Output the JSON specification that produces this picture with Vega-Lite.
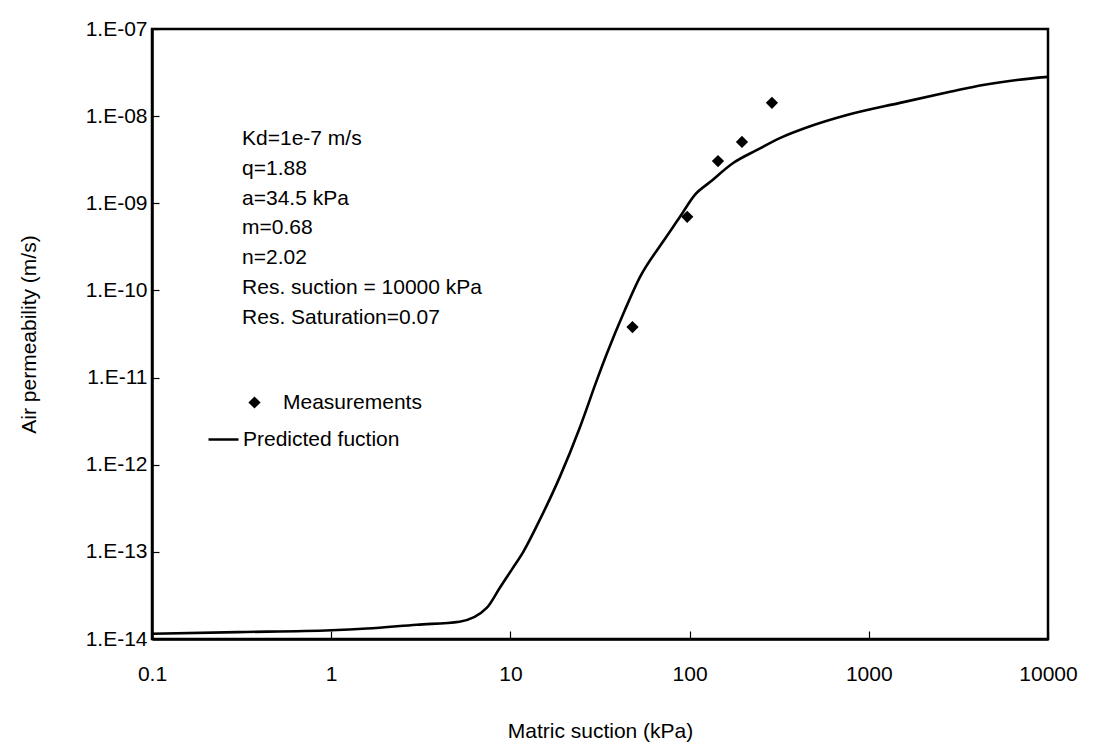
{
  "$schema": "https://vega.github.io/schema/vega-lite/v6.json",
  "autosize": "none",
  "width": 896,
  "height": 610,
  "padding": {"left": 152, "top": 29, "right": 46, "bottom": 117},
  "background": "white",
  "config": {
    "font": "Liberation Sans",
    "view": {"stroke": "black", "strokeWidth": 2.5},
    "axis": {"grid": false, "domainColor": "black", "domainWidth": 2.5, "tickColor": "black", "tickWidth": 1.2, "labelColor": "black", "titleColor": "black", "labelFont": "Liberation Sans", "titleFont": "Liberation Sans", "titleFontWeight": "normal"}
  },
  "datasets": {
    "curve": [
      {"s": 0.1, "k": 1.15e-14}, {"s": 0.3, "k": 1.2e-14}, {"s": 1, "k": 1.26e-14}, {"s": 1.58, "k": 1.32e-14},
      {"s": 3, "k": 1.46e-14}, {"s": 5.2, "k": 1.58e-14}, {"s": 7.4, "k": 2.29e-14}, {"s": 8.75, "k": 3.9e-14},
      {"s": 10.2, "k": 6.3e-14}, {"s": 11.8, "k": 1.0e-13}, {"s": 14.6, "k": 2.34e-13}, {"s": 18.9, "k": 7.3e-13},
      {"s": 24.5, "k": 2.73e-12}, {"s": 30.4, "k": 9.4e-12}, {"s": 34.6, "k": 1.9e-11}, {"s": 43.6, "k": 6.0e-11},
      {"s": 52.9, "k": 1.43e-10}, {"s": 70.2, "k": 3.5e-10}, {"s": 88.4, "k": 7.0e-10}, {"s": 107, "k": 1.25e-9},
      {"s": 130, "k": 1.75e-9}, {"s": 175, "k": 2.9e-9}, {"s": 238, "k": 4.1e-9}, {"s": 319, "k": 5.6e-9},
      {"s": 458, "k": 7.5e-9}, {"s": 755, "k": 1.03e-8}, {"s": 1493, "k": 1.42e-8}, {"s": 2840, "k": 1.9e-8},
      {"s": 4340, "k": 2.28e-8}, {"s": 6710, "k": 2.6e-8}, {"s": 10000, "k": 2.82e-8}
    ],
    "meas": [
      {"s": 48, "k": 3.8e-11}, {"s": 97, "k": 7.0e-10}, {"s": 144, "k": 3.05e-9}, {"s": 196, "k": 5.05e-9}, {"s": 288, "k": 1.42e-8}
    ]
  },
  "layer": [
    {
      "data": {"name": "curve"},
      "mark": {"type": "line", "strokeWidth": 2.6, "interpolate": "monotone"},
      "encoding": {
        "x": {
          "field": "s", "type": "quantitative",
          "scale": {"type": "log", "domain": [0.1, 10000], "nice": false},
          "axis": {"title": "Matric suction (kPa)", "values": [0.1, 1, 10, 100, 1000, 10000], "labelExpr": "datum.value + ''", "tickSize": -8, "labelPadding": 32, "labelFontSize": 21, "titleFontSize": 21, "titlePadding": 36, "labelFlush": false}
        },
        "y": {
          "field": "k", "type": "quantitative",
          "scale": {"type": "log", "domain": [1e-14, 1e-7], "nice": false},
          "axis": {"title": "Air permeability (m/s)", "values": [1e-14, 1e-13, 1e-12, 1e-11, 1e-10, 1e-9, 1e-8, 1e-7], "labelExpr": "'1.E-' + (round(-log(datum.value)/LN10) < 10 ? '0' : '') + round(-log(datum.value)/LN10)", "tickSize": -7, "labelPadding": 12, "labelFontSize": 21, "titleFontSize": 21, "titlePadding": 46, "labelFlush": false}
        },
        "stroke": {"datum": "Predicted fuction", "type": "nominal", "scale": {"domain": ["Predicted fuction"], "range": ["black"]},
          "legend": {"title": null, "orient": "none", "legendX": 55, "legendY": 394, "symbolType": "stroke", "symbolSize": 900, "symbolStrokeWidth": 2.5, "symbolStrokeColor": "black", "labelFontSize": 21, "labelColor": "black", "labelOffset": 3, "padding": 0}}
      }
    },
    {
      "data": {"name": "meas"},
      "mark": {"type": "point", "filled": true, "color": "black", "size": 150, "opacity": 1},
      "encoding": {
        "x": {"field": "s", "type": "quantitative"},
        "y": {"field": "k", "type": "quantitative"},
        "shape": {"datum": "Measurements", "type": "nominal", "scale": {"domain": ["Measurements"], "range": ["diamond"]},
          "legend": {"title": null, "orient": "none", "legendX": 92, "legendY": 363, "symbolSize": 150, "symbolFillColor": "black", "symbolStrokeColor": "black", "symbolOpacity": 1, "labelFontSize": 21, "labelColor": "black", "labelOffset": 18, "padding": 0}}
      }
    },
    {
      "data": {"values": [{"label": "Kd=1e-7 m/s\nq=1.88\na=34.5 kPa\nm=0.68\nn=2.02\nRes. suction = 10000 kPa\nRes. Saturation=0.07"}]},
      "mark": {"type": "text", "align": "left", "baseline": "top", "fontSize": 21, "lineHeight": 29.8, "lineBreak": "\n", "fill": "black"},
      "encoding": {
        "x": {"datum": 0.318, "type": "quantitative"},
        "y": {"datum": 7.3e-9, "type": "quantitative"},
        "text": {"field": "label", "type": "nominal"}
      }
    }
  ]
}
